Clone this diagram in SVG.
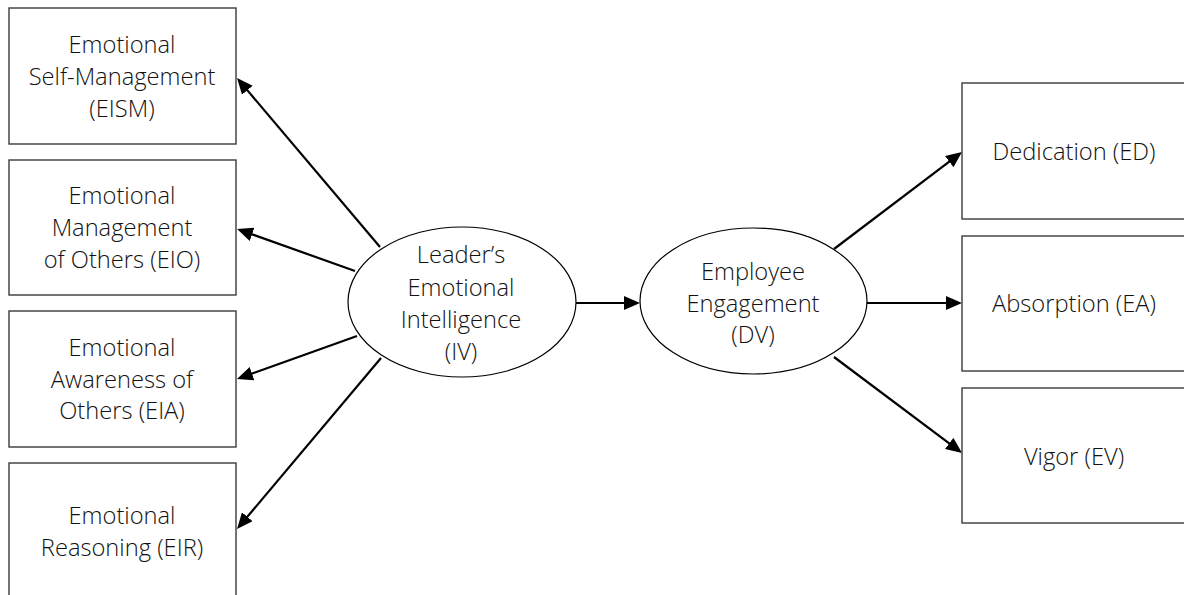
<svg xmlns="http://www.w3.org/2000/svg" width="1184" height="595" viewBox="0 0 1184 595">
  <style>
    .box { fill: #ffffff; stroke: #3a3a3a; stroke-width: 1.4; }
    .oval { fill: #ffffff; stroke: #000000; stroke-width: 1.2; }
    .lbl { font-family: "Open Sans", "Liberation Sans", sans-serif; font-weight: 300; font-size: 23.7px; fill: #111111; text-anchor: middle; }
    .arrow { stroke: #000000; stroke-width: 2.2; fill: none; marker-end: url(#head); }
  </style>
  <defs>
    <marker id="head" markerUnits="userSpaceOnUse" viewBox="0 0 16 14" markerWidth="16" markerHeight="14" refX="10" refY="7" orient="auto">
      <path d="M0,0 L16,7 L0,14 z" fill="#000000"/>
    </marker>
  </defs>
  <rect width="1184" height="595" fill="#ffffff"/>

  <!-- Connectors -->
  <g id="connectors">
    <line class="arrow" x1="380" y1="247" x2="240.9" y2="82.6"/>
    <line class="arrow" x1="355" y1="271" x2="242.7" y2="231.0"/>
    <line class="arrow" x1="357" y1="336" x2="242.6" y2="377.0"/>
    <line class="arrow" x1="381" y1="358" x2="240.9" y2="524.4"/>
    <line class="arrow" x1="576" y1="303" x2="634" y2="303"/>
    <line class="arrow" x1="834" y1="249" x2="957.2" y2="155.6"/>
    <line class="arrow" x1="867" y1="303" x2="956" y2="303"/>
    <line class="arrow" x1="834" y1="357" x2="957.2" y2="449.4"/>
  </g>

  <!-- Emotional intelligence dimensions -->
  <g id="eism">
    <rect class="box" x="9" y="8" width="227" height="136"/>
    <text class="lbl" x="122" y="53">Emotional</text>
    <text class="lbl" x="122" y="85">Self-Management</text>
    <text class="lbl" x="122" y="117">(EISM)</text>
  </g>
  <g id="eio">
    <rect class="box" x="9" y="160" width="227" height="135"/>
    <text class="lbl" x="122" y="204">Emotional</text>
    <text class="lbl" x="122" y="236">Management</text>
    <text class="lbl" x="122" y="268">of Others (EIO)</text>
  </g>
  <g id="eia">
    <rect class="box" x="9" y="311" width="227" height="136"/>
    <text class="lbl" x="122" y="356">Emotional</text>
    <text class="lbl" x="122" y="388">Awareness of</text>
    <text class="lbl" x="122" y="419">Others (EIA)</text>
  </g>
  <g id="eir">
    <rect class="box" x="9" y="463" width="227" height="140"/>
    <text class="lbl" x="122" y="524">Emotional</text>
    <text class="lbl" x="122" y="556">Reasoning (EIR)</text>
  </g>

  <!-- Latent variables -->
  <g id="iv">
    <ellipse class="oval" cx="462" cy="302" rx="114" ry="75"/>
    <text class="lbl" x="461" y="263">Leader’s</text>
    <text class="lbl" x="461" y="296">Emotional</text>
    <text class="lbl" x="461" y="328">Intelligence</text>
    <text class="lbl" x="461" y="360">(IV)</text>
  </g>
  <g id="dv">
    <ellipse class="oval" cx="753.5" cy="301" rx="113.5" ry="73"/>
    <text class="lbl" x="753" y="280">Employee</text>
    <text class="lbl" x="753" y="312">Engagement</text>
    <text class="lbl" x="753" y="343">(DV)</text>
  </g>

  <!-- Engagement dimensions -->
  <g id="ed">
    <rect class="box" x="962" y="83" width="228" height="136"/>
    <text class="lbl" x="1074" y="160">Dedication (ED)</text>
  </g>
  <g id="ea">
    <rect class="box" x="962" y="236" width="228" height="135"/>
    <text class="lbl" x="1074" y="312">Absorption (EA)</text>
  </g>
  <g id="ev">
    <rect class="box" x="962" y="388" width="228" height="135"/>
    <text class="lbl" x="1074" y="465">Vigor (EV)</text>
  </g>
</svg>
